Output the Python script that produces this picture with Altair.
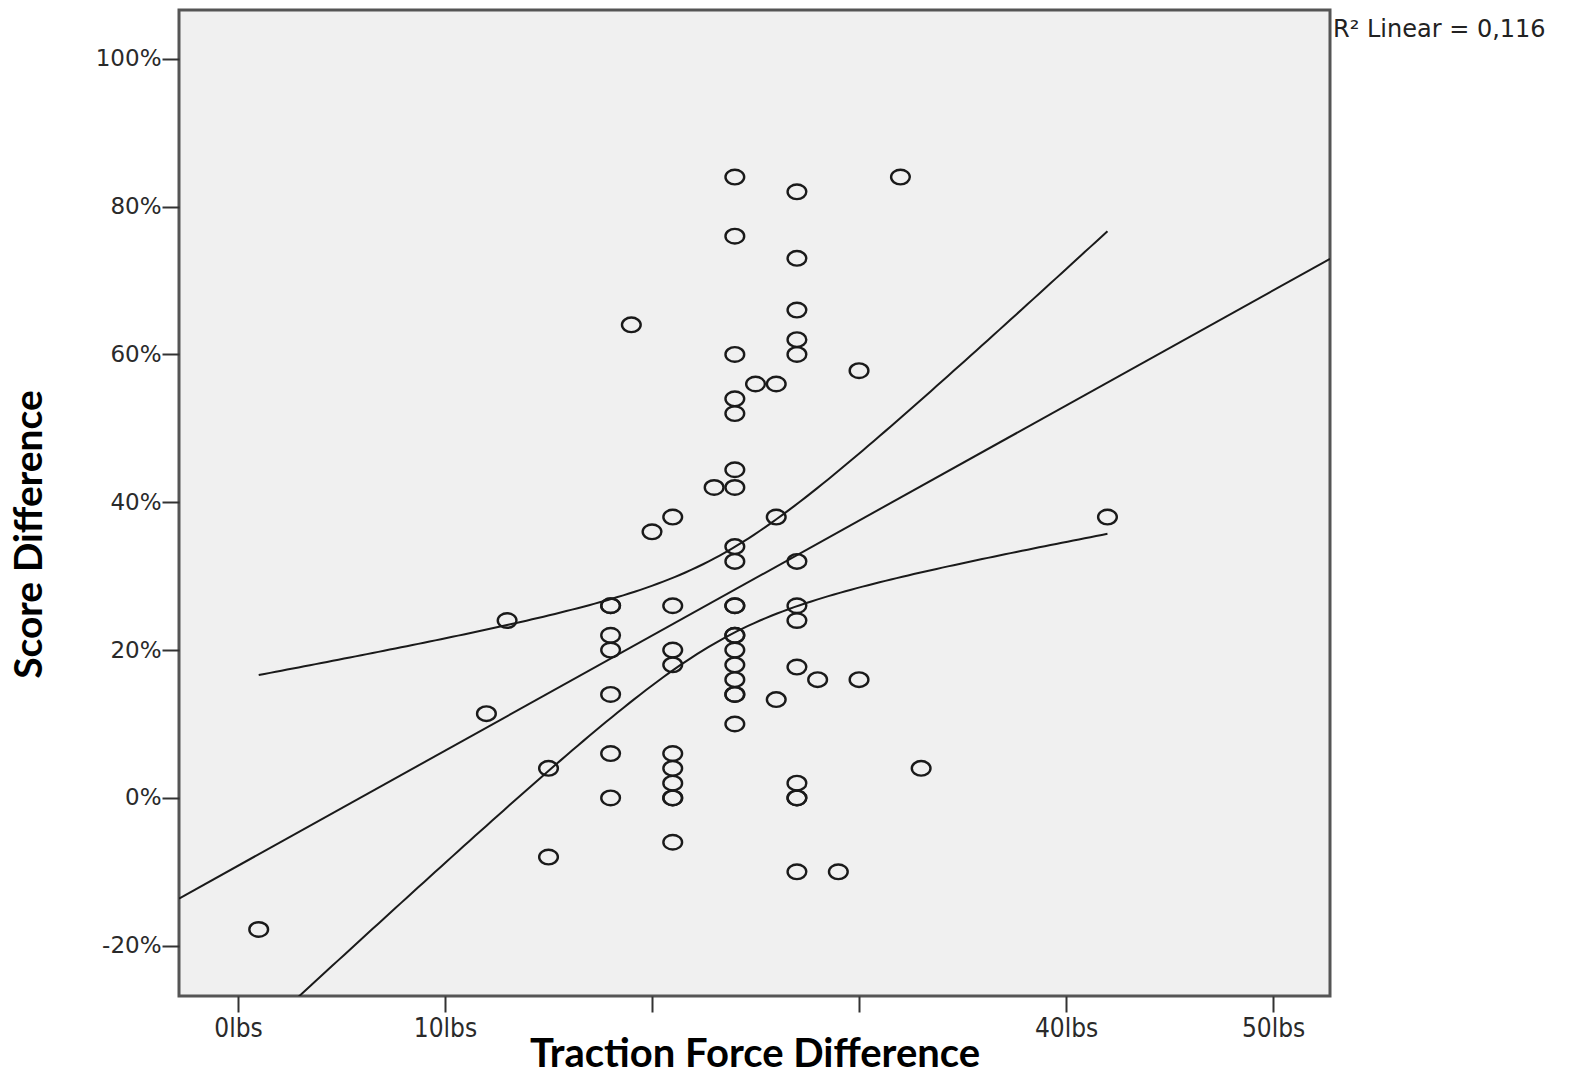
import numpy as np
import pandas as pd
import altair as alt

# ---- data (x in lbs, y in %) ----
force_lbs = [
    1,
    12,
    13,
    15, 15,
    18, 18, 18, 18, 18, 18, 18,
    19,
    20,
    21, 21, 21, 21, 21, 21, 21, 21, 21, 21,
    23,
    24, 24, 24, 24, 24, 24, 24, 24, 24, 24, 24, 24, 24, 24, 24, 24, 24, 24, 24,
    25,
    26, 26, 26,
    27, 27, 27, 27, 27, 27, 27, 27, 27, 27, 27, 27, 27,
    28,
    29,
    30, 30,
    32,
    33,
    42,
]
score_pct = [
    -17.8,
    11.4,
    24,
    4, -8,
    26, 26, 22, 20, 14, 6, 0,
    64,
    36,
    38, 26, 20, 18, 6, 4, 2, 0, 0, -6,
    42,
    84, 76, 60, 54, 52, 44.4, 42, 34, 32, 26, 26, 22, 22, 20, 18, 16, 14, 14, 10,
    56,
    56, 38, 13.3,
    82, 73, 66, 62, 60, 32, 26, 24, 17.7, 2, 0, 0, -10,
    16,
    -10,
    57.8, 16,
    84,
    4,
    38,
]

x_ticks = [0, 10, 20, 30, 40, 50]
x_hidden_labels = [20, 30]
y_ticks = [-20, 0, 20, 40, 60, 80, 100]
r2_label = "R\u00b2  Linear = 0,116"

X_DOMAIN = [-2.85, 52.75]
Y_DOMAIN = [-26.8, 106.6]
T_CRIT = 1.996  # two-sided 95% t value for about 66 degrees of freedom

# ---- linear fit and 95% mean confidence band computed from the points ----
xa = np.array(force_lbs, float)
ya = np.array(score_pct, float)
n = len(xa)
slope, intercept = np.polyfit(xa, ya, 1)
resid = ya - (intercept + slope * xa)
s = np.sqrt((resid ** 2).sum() / (n - 2))
xbar = xa.mean()
sxx = ((xa - xbar) ** 2).sum()

fit_x = np.linspace(X_DOMAIN[0], X_DOMAIN[1], 2)
fit_df = pd.DataFrame({"x": fit_x, "y": intercept + slope * fit_x})

ci_x = np.linspace(xa.min(), xa.max(), 150)
hw = T_CRIT * s * np.sqrt(1.0 / n + (ci_x - xbar) ** 2 / sxx)
ci_fit = intercept + slope * ci_x
ci_df = pd.concat([
    pd.DataFrame({"x": ci_x, "y": ci_fit + hw, "band": "upper"}),
    pd.DataFrame({"x": ci_x, "y": ci_fit - hw, "band": "lower"}),
])

pts = pd.DataFrame({"x": force_lbs, "y": score_pct})

x_enc = alt.X(
    "x:Q",
    scale=alt.Scale(domain=X_DOMAIN, nice=False, zero=False),
    axis=alt.Axis(
        values=x_ticks,
        labelExpr="indexof([%s], datum.value) >= 0 ? '' : datum.value + 'lbs'"
        % ",".join(str(v) for v in x_hidden_labels),
        title="Traction Force Difference",
        grid=False,
        domain=False,
        tickSize=16,
        tickWidth=2,
        tickColor="#333333",
        labelFont="DejaVu Sans Condensed",
        labelFontSize=26,
        labelColor="#2a2a2a",
        labelPadding=3,
        labelFlush=False,
        titleFont="Lato",
        titleFontWeight="bold",
        titleFontSize=40,
        titleColor="#000000",
        titleAnchor="middle",
        titleBaseline="middle",
        titleY=58,
    ),
)
y_enc = alt.Y(
    "y:Q",
    scale=alt.Scale(domain=Y_DOMAIN, nice=False, zero=False),
    axis=alt.Axis(
        values=y_ticks,
        labelExpr="datum.value + '%'",
        title="Score Difference",
        grid=False,
        domain=False,
        tickSize=17,
        tickWidth=2,
        tickColor="#333333",
        labelFont="DejaVu Sans",
        labelFontSize=23,
        labelColor="#2a2a2a",
        labelPadding=1,
        labelFlush=False,
        titleFont="Lato",
        titleFontWeight="bold",
        titleFontSize=39,
        titleColor="#000000",
        titleAngle=-90,
        titleAlign="center",
        titleBaseline="middle",
        titleX=-150,
        titleY=524,
    ),
)

ellipse = "M-1,0A1,0.78 0 1,0 1,0A1,0.78 0 1,0 -1,0Z"

points = alt.Chart(pts).mark_point(
    shape=ellipse, size=350, filled=False, stroke="#1a1a1a", strokeWidth=2.4, opacity=1
).encode(x=x_enc, y=y_enc)

fit_line = alt.Chart(fit_df).mark_line(color="#1a1a1a", strokeWidth=2, clip=True).encode(
    x="x:Q", y="y:Q"
)

ci_lines = alt.Chart(ci_df).mark_line(color="#1a1a1a", strokeWidth=2, clip=True).encode(
    x="x:Q", y="y:Q", detail="band:N"
)

r2_text = alt.Chart(pd.DataFrame({"t": [r2_label]})).mark_text(
    align="left", baseline="alphabetic", font="DejaVu Sans", fontSize=24, color="#222222"
).encode(x=alt.value(1154), y=alt.value(27), text="t:N")

chart = (
    alt.layer(ci_lines, fit_line, points, r2_text)
    .properties(
        width=1151,
        height=986,
        autosize=alt.AutoSizeParams(type="none"),
        padding={"left": 179, "top": 10, "right": 256, "bottom": 81},
        background="#ffffff",
    )
    .configure_view(fill="#f0f0f0", stroke="#555555", strokeWidth=3)
)

chart.save("out.html", embed_options={"renderer": "svg", "actions": False})
